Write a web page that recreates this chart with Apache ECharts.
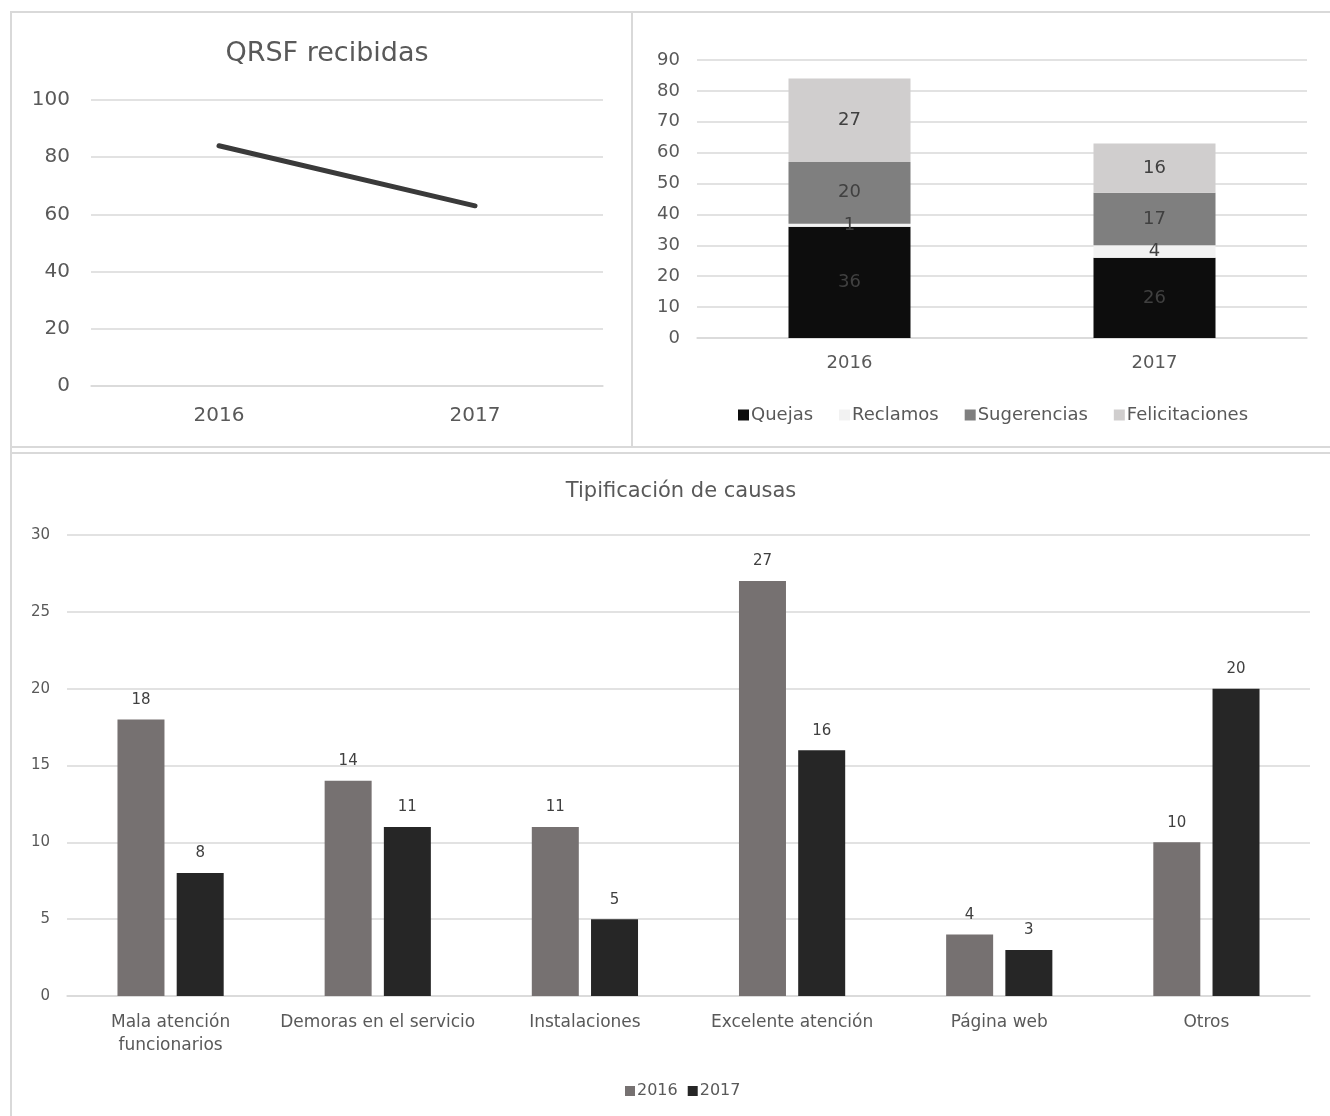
<!DOCTYPE html>
<html>
<head>
<meta charset="utf-8">
<title>QRSF</title>
<script src="https://cdn.jsdelivr.net/npm/echarts@6/dist/echarts.min.js"></script>
<style>
  html, body { margin: 0; padding: 0; background: #fff; }
  #chart { width: 1330px; height: 1116px; }
</style>
</head>
<body>
<div id="chart"></div>
<script>
// Años comparados
const years = ['2016', '2017'];

// Total de QRSF recibidas por año
const totalReceived = [84, 63];

// Desglose por tipo (apilado)
const quejas = [36, 26];
const reclamos = [1, 4];
const sugerencias = [20, 17];
const felicitaciones = [27, 16];

// Tipificación de causas
const causes = ['Mala atención\nfuncionarios', 'Demoras en el servicio', 'Instalaciones', 'Excelente atención', 'Página web', 'Otros'];
const causes2016 = [18, 14, 11, 27, 4, 10];
const causes2017 = [8, 11, 5, 16, 3, 20];

const FONT = 'DejaVu Sans';
const TXT = '#595959';
const GRID = '#d9d9d9';
const BORDER = '#d9d9d9';

const chart = echarts.init(document.getElementById('chart'));

function valueAxis(gridIndex, max, interval, size, margin) {
  return {
    type: 'value', gridIndex, min: 0, max, interval,
    axisLine: { show: false }, axisTick: { show: false },
    splitLine: { lineStyle: { color: GRID, width: 1.5 } },
    axisLabel: { color: TXT, fontFamily: FONT, fontSize: size, margin }
  };
}
function catAxis(gridIndex, data, size, margin, lh) {
  return {
    type: 'category', gridIndex, data,
    axisLine: { lineStyle: { color: GRID, width: 1.5 } },
    axisTick: { show: false },
    axisLabel: { color: TXT, fontFamily: FONT, fontSize: size, margin, interval: 0, lineHeight: lh }
  };
}

chart.setOption({
  animation: false,
  backgroundColor: '#fff',
  textStyle: { fontFamily: FONT },
  title: [
    { text: 'QRSF recibidas', left: 322, top: 35, textAlign: 'center',
      textStyle: { color: TXT, fontFamily: FONT, fontSize: 27, fontWeight: 'normal' } },
    { text: 'Tipificación de causas', left: 676, top: 476, textAlign: 'center',
      textStyle: { color: TXT, fontFamily: FONT, fontSize: 21, fontWeight: 'normal' } }
  ],
  graphic: [
    { type: 'polyline', silent: true, shape: { points: [[11, 1116], [11, 12], [1330, 12]] },
      style: { stroke: BORDER, lineWidth: 2, fill: null } },
    { type: 'line', silent: true, shape: { x1: 632, y1: 12, x2: 632, y2: 447 },
      style: { stroke: BORDER, lineWidth: 2 } },
    { type: 'line', silent: true, shape: { x1: 11, y1: 447, x2: 1330, y2: 447 },
      style: { stroke: BORDER, lineWidth: 2 } },
    { type: 'line', silent: true, shape: { x1: 11, y1: 453, x2: 1330, y2: 453 },
      style: { stroke: BORDER, lineWidth: 2 } }
  ],
  legend: [
    { data: ['Quejas', 'Reclamos', 'Sugerencias', 'Felicitaciones'],
      left: 733, top: 401, itemWidth: 11, itemHeight: 11, itemGap: 26, icon: 'rect',
      textStyle: { color: TXT, fontFamily: FONT, fontSize: 18, padding: [0, 0, 0, -3] } },
    { data: ['2016', '2017'], left: 620, top: 1078, itemWidth: 10, itemHeight: 10, itemGap: 10, icon: 'rect',
      textStyle: { color: TXT, fontFamily: FONT, fontSize: 16, padding: [0, 0, 0, -3] } }
  ],
  grid: [
    { left: 91, right: 727, top: 100, bottom: 730 },
    { left: 697, right: 23, top: 60, bottom: 778 },
    { left: 67, right: 20, top: 535, bottom: 120 }
  ],
  xAxis: [
    catAxis(0, years, 20, 20),
    catAxis(1, years, 18, 16),
    catAxis(2, causes, 17, 15, 23)
  ],
  yAxis: [
    valueAxis(0, 100, 20, 20, 21),
    valueAxis(1, 90, 10, 18, 17),
    valueAxis(2, 30, 5, 15, 17)
  ],
  series: [
    { type: 'line', name: 'QRSF', xAxisIndex: 0, yAxisIndex: 0, data: totalReceived,
      showSymbol: false, lineStyle: { color: '#3a3a3a', width: 5, cap: 'round' } },

    { type: 'bar', name: 'Quejas', stack: 'tipo', xAxisIndex: 1, yAxisIndex: 1, data: quejas,
      barWidth: '40%', itemStyle: { color: '#0d0d0d' },
      label: { show: true, position: 'inside', color: '#404040', fontFamily: FONT, fontSize: 18 } },
    { type: 'bar', name: 'Reclamos', stack: 'tipo', xAxisIndex: 1, yAxisIndex: 1, data: reclamos,
      barWidth: '40%', itemStyle: { color: '#f2f2f2' },
      label: { show: true, position: 'inside', color: '#404040', fontFamily: FONT, fontSize: 18 } },
    { type: 'bar', name: 'Sugerencias', stack: 'tipo', xAxisIndex: 1, yAxisIndex: 1, data: sugerencias,
      barWidth: '40%', itemStyle: { color: '#7f7f7f' },
      label: { show: true, position: 'inside', color: '#404040', fontFamily: FONT, fontSize: 18 } },
    { type: 'bar', name: 'Felicitaciones', stack: 'tipo', xAxisIndex: 1, yAxisIndex: 1, data: felicitaciones,
      barWidth: '40%', itemStyle: { color: '#d0cece' },
      label: { show: true, position: 'inside', color: '#404040', fontFamily: FONT, fontSize: 18 } },

    { type: 'bar', name: '2016', xAxisIndex: 2, yAxisIndex: 2, data: causes2016,
      barWidth: 47, barGap: '26%', itemStyle: { color: '#767171' },
      label: { show: true, position: 'top', distance: 12, color: '#404040', fontFamily: FONT, fontSize: 15 } },
    { type: 'bar', name: '2017', xAxisIndex: 2, yAxisIndex: 2, data: causes2017,
      barWidth: 47, barGap: '26%', itemStyle: { color: '#262626' },
      label: { show: true, position: 'top', distance: 12, color: '#404040', fontFamily: FONT, fontSize: 15 } }
  ]
});
</script>
</body>
</html>
